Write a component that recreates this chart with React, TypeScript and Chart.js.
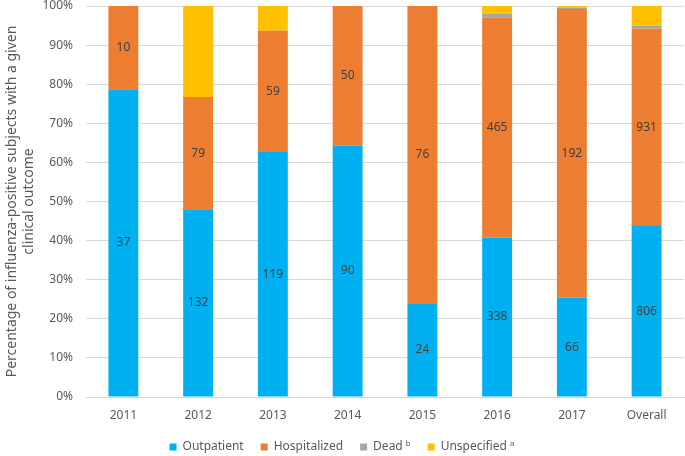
import React, { useEffect, useRef } from "react";
import { Chart, registerables } from "chart.js";

Chart.register(...registerables);

const categories = ["2011", "2012", "2013", "2014", "2015", "2016", "2017", "Overall"];
const outpatient = [37, 132, 119, 90, 24, 338, 66, 806];
const hospitalized = [10, 79, 59, 50, 76, 465, 192, 931];
const dead = [0, 0, 0, 0, 0, 9, 1, 13];
const unspecified = [0, 64, 12, 0, 0, 16, 1, 93];
const yTicks = [0, 10, 20, 30, 40, 50, 60, 70, 80, 90, 100];

const seriesNames = ["Outpatient", "Hospitalized", "Dead \u1d47", "Unspecified \u1d43"];
const seriesColors = ["#00B0F0", "#ED7D31", "#A5A5A5", "#FFC000"];
const labeledSeries = [0, 1];
const yTitle = ["Percentage of influenza-positive subjects with a given", "clinical outcome"];

const FONT = "'Noto Sans', 'Open Sans', sans-serif";
const TEXT = "#595959";

const totals = categories.map(
  (_, i) => outpatient[i] + hospitalized[i] + dead[i] + unspecified[i]
);
const counts = [outpatient, hospitalized, dead, unspecified];

const labelPlugin = {
  id: "segmentLabels",
  afterDatasetsDraw(chart: any) {
    const ctx = chart.ctx;
    ctx.save();
    ctx.font = `12px ${FONT}`;
    ctx.fillStyle = "#404040";
    ctx.textAlign = "center";
    ctx.textBaseline = "middle";
    labeledSeries.forEach((di) => {
      const meta = chart.getDatasetMeta(di);
      meta.data.forEach((el: any, i: number) => {
        const v = counts[di][i];
        if (!v) return;
        const y = (el.y + el.base) / 2;
        ctx.fillText(String(v), el.x, y);
      });
    });
    ctx.restore();
  },
};

export default function App() {
  const ref = useRef<HTMLCanvasElement | null>(null);
  useEffect(() => {
    if (!ref.current) return;
    const chart: any = new Chart(ref.current, {
      type: "bar",
      data: {
        labels: categories,
        datasets: counts.map((arr, si) => ({
          label: seriesNames[si],
          data: arr.map((v, i) => (v / totals[i]) * 100),
          backgroundColor: seriesColors[si],
          borderWidth: 0,
          categoryPercentage: 1,
          barPercentage: 0.4,
        })),
      },
      options: {
        animation: false,
        responsive: false,
        maintainAspectRatio: false,
        layout: { padding: { left: 0, right: 1, top: 0, bottom: 0 } },
        plugins: {
          tooltip: { enabled: false },
          legend: {
            position: "bottom",
            labels: {
              boxWidth: 7,
              boxHeight: 7,
              padding: 17,
              color: TEXT,
              font: { family: FONT, size: 12 },
            },
          },
        },
        scales: {
          x: {
            stacked: true,
            grid: { display: false, drawTicks: false },
            border: { display: true, color: "#D9D9D9", width: 1 },
            ticks: { color: TEXT, font: { family: FONT, size: 12 }, padding: 11 },
            afterFit: (scale: any) => {
              scale.height = 27;
            },
          },
          y: {
            stacked: true,
            min: 0,
            max: 100,
            afterBuildTicks: (axis: any) => {
              axis.ticks = yTicks.map((v) => ({ value: v }));
            },
            afterFit: (scale: any) => {
              scale.width = 86;
            },
            grid: {
              color: "#D9D9D9",
              lineWidth: 1,
              drawTicks: true,
              tickLength: 13,
              tickColor: "rgba(0,0,0,0)",
            },
            border: { display: false },
            ticks: {
              color: TEXT,
              font: { family: FONT, size: 12, lineHeight: 1 },
              padding: 0,
              callback: (v: any) => `${v}%`,
            },
            title: {
              display: true,
              text: yTitle,
              color: TEXT,
              font: { family: FONT, size: 14, lineHeight: 1.2 },
              padding: { top: 4, bottom: 0 },
            },
          },
        },
      },
      plugins: [labelPlugin],
    });
    const lg = chart.legend;
    if (lg) {
      const origFit = lg.fit.bind(lg);
      lg.fit = () => {
        origFit();
        lg.height = 32;
      };
      chart.update();
    }
    return () => chart.destroy();
  }, []);
  return (
    <div style={{ position: "fixed", left: 0, top: 0, width: 685, height: 456, background: "#fff" }}>
      <canvas ref={ref} width={685} height={456} style={{ width: 685, height: 456 }} />
    </div>
  );
}
